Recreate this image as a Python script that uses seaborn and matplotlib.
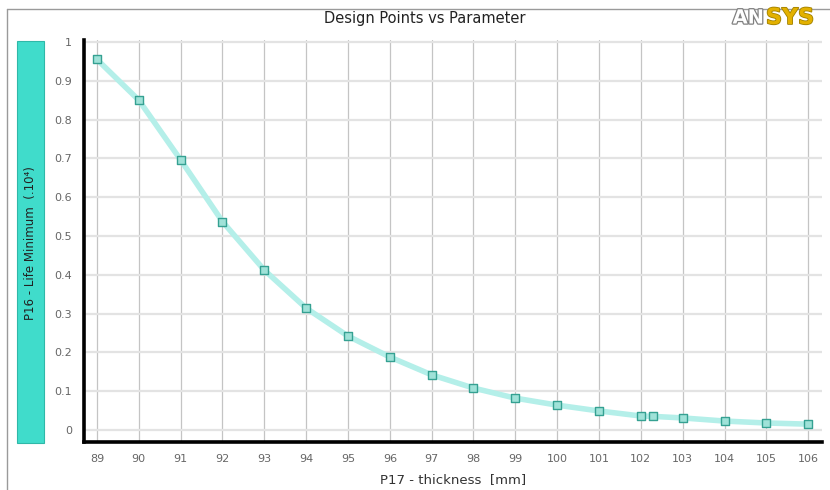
import matplotlib
matplotlib.use("Agg")
from matplotlib import pyplot as plt
from matplotlib import patheffects
from matplotlib.lines import Line2D
from matplotlib.patches import Rectangle
import pandas as pd
import seaborn as sns

# design points
thickness = [89, 90, 91, 92, 93, 94, 95, 96, 97, 98, 99, 100, 101, 102, 102.3,
             103, 104, 105, 106]
life_min = [0.955, 0.850, 0.696, 0.537, 0.412, 0.314, 0.242, 0.188, 0.142,
            0.108, 0.082, 0.064, 0.049, 0.036, 0.035, 0.031, 0.023, 0.018, 0.015]
x_ticks = list(range(89, 107))
y_ticks = [0, 0.1, 0.2, 0.3, 0.4, 0.5, 0.6, 0.7, 0.8, 0.9, 1]
y_tick_labels = ["0", "0.1", "0.2", "0.3", "0.4", "0.5", "0.6", "0.7", "0.8", "0.9", "1"]

df = pd.DataFrame({"thickness": thickness, "life": life_min})

sns.set_style("white")
plt.rcParams["font.family"] = ["DejaVu Sans"]

fig = plt.figure(figsize=(8.3, 4.9), dpi=100)
ax = fig.add_axes([84 / 830, 1 - 442 / 490, (822 - 84) / 830, (442 - 40) / 490])

# curve + design point markers
sns.lineplot(data=df, x="thickness", y="life", color="#b4efe9", linewidth=4.0,
             solid_joinstyle="round", solid_capstyle="round", ax=ax, zorder=3)
sns.scatterplot(data=df, x="thickness", y="life", marker="s", s=32,
                color="#9fe2d8", edgecolor="#35a192", linewidth=1.0, ax=ax, zorder=4)

ax.set_xlim(88.69, 106.33)
ax.set_ylim(-0.031, 1.005)
ax.set_xticks(x_ticks)
ax.set_xticklabels([str(t) for t in x_ticks])
ax.set_yticks(y_ticks)
ax.set_yticklabels(y_tick_labels)

# grid: darker verticals, light horizontals
for xv in x_ticks:
    ax.axvline(xv, color="#c4c4c4", linewidth=0.9, zorder=1)
for yv in y_ticks:
    ax.axhline(yv, color="#e3e3e3", linewidth=1.6, zorder=1)

for side in ["top", "right"]:
    ax.spines[side].set_visible(False)
for side in ["left", "bottom"]:
    ax.spines[side].set_color("black")
    ax.spines[side].set_linewidth(2.6)

ax.tick_params(axis="both", colors="#888888", labelsize=8, length=2.5,
               width=0.8, direction="out", pad=6)
ax.tick_params(axis="both", labelcolor="#666666")
ax.set_xlabel("P17 - thickness  [mm]", fontsize=9.5, color="#333333", labelpad=7)
ax.set_ylabel("")

# title and side label box
fig.text(425 / 830, 1 - 18 / 490, "Design Points vs Parameter", ha="center",
         va="center", fontsize=10.5, color="#222222")
fig.patches.append(Rectangle((17 / 830, 1 - 443 / 490), 27 / 830, 402 / 490,
                             transform=fig.transFigure, facecolor="#40dccb",
                             edgecolor="#2fb8a8", linewidth=0.8))
fig.text(30.5 / 830, 1 - 243 / 490, "P16 - Life Minimum  (.10\u2074)", rotation=90,
         ha="center", va="center", fontsize=8.5, color="#222222")

# outer frame lines
fig.lines.append(Line2D([7 / 830, 7 / 830], [0, 1 - 9 / 490], transform=fig.transFigure,
                        color="#9a9a9a", linewidth=1.0))
fig.lines.append(Line2D([7 / 830, 1], [1 - 9 / 490, 1 - 9 / 490], transform=fig.transFigure,
                        color="#9a9a9a", linewidth=1.0))

# ANSYS logo (clipped at right edge)
fig.text(764 / 830, 1 - 18 / 490, "AN", ha="right", va="center", fontsize=14,
         fontweight="bold", color="#ffffff",
         path_effects=[patheffects.withStroke(linewidth=1.8, foreground="#808080")])
fig.text(766 / 830, 1 - 18 / 490, "SYS", ha="left", va="center", fontsize=16,
         fontweight="bold", color="#e3b100",
         path_effects=[patheffects.withStroke(linewidth=1.2, foreground="#a08000")])

fig.savefig("out.png", dpi=100)
